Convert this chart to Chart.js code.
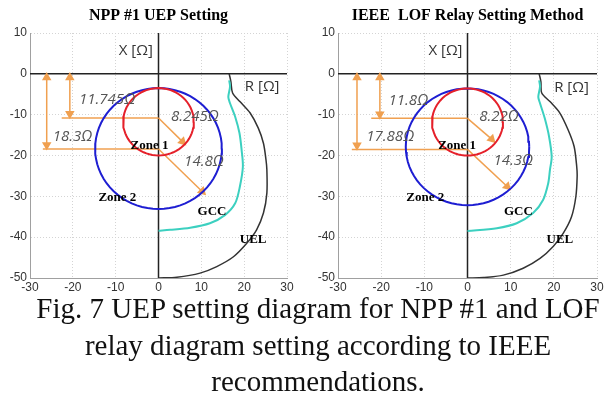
<!DOCTYPE html>
<html>
<head>
<meta charset="utf-8">
<script src="https://cdn.jsdelivr.net/npm/chart.js@4.4.1/dist/chart.umd.min.js"></script>
<style>
  body { margin: 0; background: #fff; }
  #wrap { position: relative; width: 610px; height: 405px; overflow: hidden; }
  canvas { position: absolute; top: 0; }
  #c1 { left: 0; }
  #c2 { left: 305px; }
  #caption {
    position: absolute; left: 13px; top: 290px; width: 610px; text-align: center;
    font-family: "Liberation Serif", "Times New Roman", serif;
    font-size: 29px; line-height: 36.5px; color: #111;
  }
</style>
</head>
<body>
<div id="wrap">
  <canvas id="c1" width="305" height="295"></canvas>
  <canvas id="c2" width="305" height="295"></canvas>
  <div id="caption">Fig. 7 UEP setting diagram for NPP #1 and LOF<br>relay diagram setting according to IEEE<br>recommendations.</div>
</div>
<script>
// axis ticks
const xTicks = [-30, -20, -10, 0, 10, 20, 30];
const yTicks = [10, 0, -10, -20, -30, -40, -50];

// NPP #1 UEP setting (left)
const nppZoneCenter = [-11.745, -18.3];   // zone 1, zone 2 (X offset of centre)
const nppZoneRadius = [8.245, 14.8];
const nppGccR = [16.5, 16.7, 16.3, 16.7, 17.9, 18.9, 19.4, 19.7, 19.0, 17.9, 15.5, 12.0, 7.4, 2.7, 0];
const nppGccX = [-1.6, -3.1, -5.7, -7.2, -10.5, -14.5, -18.6, -22.7, -27.6, -31.7, -34.6, -36.6, -37.7, -38.2, -38.4];
const nppUelR = [16.5, 16.9, 17.3, 19.0, 21.4, 23.3, 24.5, 25.1, 25.3, 25.3, 24.5, 22.9, 20.6, 17.5, 13.6, 9.7, 4.3, 0];
const nppUelX = [0, -1.9, -4.7, -6.8, -9.6, -13.3, -17.0, -21.1, -23.5, -29.2, -34.1, -38.2, -41.5, -44.8, -47.2, -48.8, -49.8, -50];
const nppDimX = [-20.7, -26.1];           // vertical dimension arrows
const nppDimY = [-10.8, -18.4];           // centre lines as drawn
const nppDimStart = [-22.6, -27.0];
const nppRadTipR = [5.6, 10.2];           // radius arrow tips
const nppRadTipX = [-16.6, -28.8];

// IEEE LOF relay setting (right)
const ieeeZoneCenter = [-11.8, -17.88];
const ieeeZoneRadius = [8.22, 14.3];
const ieeeGccR = [16.6, 16.8, 16.4, 16.8, 17.9, 18.9, 19.5, 19.1, 18.7, 17.5, 15.2, 11.4, 6.8, 0];
const ieeeGccX = [-1.6, -3.1, -5.7, -7.2, -10.9, -15.4, -20.3, -23.5, -26.8, -30.9, -34.1, -36.6, -37.8, -38.5];
const ieeeUelR = [16.6, 17.0, 17.2, 19.1, 21.4, 23.3, 24.7, 25.3, 25.4, 25.1, 24.1, 22.2, 19.9, 16.8, 12.9, 8.3, 3.7, 0];
const ieeeUelX = [0, -1.9, -4.7, -6.8, -9.6, -13.7, -17.8, -22.7, -25.2, -30.1, -35.0, -39.0, -42.2, -45.2, -47.6, -49.3, -49.9, -50];
const ieeeDimX = [-20.3, -25.6];
const ieeeDimY = [-10.9, -18.5];
const ieeeDimStart = [-22.3, -26.8];
const ieeeRadTipR = [5.6, 9.2];
const ieeeRadTipX = [-16.0, -27.6];

const ORANGE = '#f0a050';

function circle(c, r) {
  const pts = [];
  for (let a = 0; a <= 360; a += 5) {
    const t = a * Math.PI / 180;
    pts.push({ x: r * Math.cos(t), y: c + r * Math.sin(t) });
  }
  return pts;
}

function zip(xs, ys) {
  return xs.map((v, i) => ({ x: v, y: ys[i] }));
}

function lineSet(data, color, width, tension) {
  return { data, borderColor: color, borderWidth: width, showLine: true,
           pointRadius: 0, tension: tension || 0, fill: false };
}

function arrowSet(data, radii, rotations) {
  return { data, borderColor: ORANGE, backgroundColor: ORANGE, borderWidth: 1.5,
           showLine: true, pointRadius: radii, pointHoverRadius: radii,
           pointStyle: 'triangle', pointRotation: rotations,
           pointBackgroundColor: ORANGE, pointBorderColor: ORANGE, tension: 0 };
}

// draw X / R axes through zero
const zeroAxes = {
  id: 'zeroAxes',
  beforeDatasetsDraw(chart) {
    const { ctx, chartArea: a, scales: { x, y } } = chart;
    const px = x.getPixelForValue(0), py = y.getPixelForValue(0);
    ctx.save();
    ctx.strokeStyle = '#222';
    ctx.lineWidth = 1.5;
    ctx.beginPath();
    ctx.moveTo(a.left, py); ctx.lineTo(a.right, py);
    ctx.moveTo(px, a.top); ctx.lineTo(px, a.bottom);
    ctx.stroke();
    ctx.restore();
  }
};

// text labels placed in data coordinates, plus a title centred over the plot
const labelsPlugin = {
  id: 'labels',
  afterDatasetsDraw(chart, args, opts) {
    const { ctx, chartArea: a, scales: { x, y } } = chart;
    ctx.save();
    ctx.textAlign = 'center';
    ctx.textBaseline = 'middle';
    opts.items.forEach(it => {
      ctx.font = it.font;
      ctx.fillStyle = it.color;
      ctx.fillText(it.text, x.getPixelForValue(it.x), y.getPixelForValue(it.y));
    });
    ctx.font = 'bold 16px "Liberation Serif", "Times New Roman", serif';
    ctx.fillStyle = '#000';
    ctx.fillText(opts.title, (a.left + a.right) / 2, 16);
    ctx.restore();
  }
};

const axisFont = '15px "Open Sans", "Liberation Sans", sans-serif';
const dimFont = 'italic 15px "Open Sans", "Liberation Sans", sans-serif';
const zoneFont = 'bold 13px "Liberation Serif", "Times New Roman", serif';

function makeChart(id, title, d, yWidth, padRight, labels) {
  const datasets = [
    lineSet(circle(d.center[0], d.radius[0]), '#e5202a', 2),
    lineSet(circle(d.center[1], d.radius[1]), '#1e1ed2', 2),
    lineSet(zip(d.gccR, d.gccX), '#3cd0c0', 2, 0.3),
    lineSet(zip(d.uelR, d.uelX), '#333', 1.5, 0.3),
    // horizontal centre lines
    lineSet([{ x: d.dimStart[0], y: d.dimY[0] }, { x: 0, y: d.dimY[0] }], ORANGE, 1.5),
    lineSet([{ x: d.dimStart[1], y: d.dimY[1] }, { x: 0, y: d.dimY[1] }], ORANGE, 1.5),
    // vertical offset arrows
    arrowSet([{ x: d.dimX[0], y: -0.9 }, { x: d.dimX[0], y: d.dimY[0] + 1 }], 4, [0, 180]),
    arrowSet([{ x: d.dimX[1], y: -0.9 }, { x: d.dimX[1], y: d.dimY[1] + 1 }], 4, [0, 180]),
    // radius arrows
    arrowSet([{ x: 0, y: d.dimY[0] }, { x: d.tipR[0], y: d.tipX[0] }], [0, 4], 135),
    arrowSet([{ x: 0, y: d.dimY[1] }, { x: d.tipR[1], y: d.tipX[1] }], [0, 4], 135)
  ];

  const tickFont = { family: '"Liberation Sans", Arial, sans-serif', size: 12 };

  return new Chart(document.getElementById(id), {
    type: 'scatter',
    data: { datasets },
    plugins: [zeroAxes, labelsPlugin],
    options: {
      responsive: false,
      animation: false,
      layout: { padding: { left: 0, right: padRight, top: 33, bottom: 0 } },
      plugins: {
        legend: { display: false },
        tooltip: { enabled: false },
        title: { display: false },
        labels: { items: labels, title: title }
      },
      scales: {
        x: {
          type: 'linear', min: -30, max: 30,
          afterBuildTicks: s => { s.ticks = xTicks.map(v => ({ value: v })); },
          afterFit: s => { s.height = 17; },
          ticks: { color: '#333', font: tickFont, padding: 2, maxRotation: 0 },
          grid: { color: '#d4d4d4', drawTicks: false },
          border: { color: '#a0a0a0', dash: [1, 2] }
        },
        y: {
          type: 'linear', min: -50, max: 10,
          afterBuildTicks: s => { s.ticks = yTicks.map(v => ({ value: v })); },
          afterFit: s => { s.width = yWidth; },
          ticks: { color: '#333', font: tickFont, padding: 3 },
          grid: { color: '#d4d4d4', drawTicks: false },
          border: { color: '#a0a0a0', dash: [1, 2] }
        }
      }
    }
  });
}

makeChart('c1', 'NPP #1 UEP Setting', {
  center: nppZoneCenter, radius: nppZoneRadius,
  gccR: nppGccR, gccX: nppGccX, uelR: nppUelR, uelX: nppUelX,
  dimX: nppDimX, dimY: nppDimY, dimStart: nppDimStart, tipR: nppRadTipR, tipX: nppRadTipX
}, 30, 18, [
  { text: 'X [\u03A9]', x: -5.3, y: 5.6, font: axisFont, color: '#333' },
  { text: 'R [\u03A9]', x: 24.2, y: -3.2, font: axisFont, color: '#333' },
  { text: '11.745\u03A9', x: -12.0, y: -6.4, font: dimFont, color: '#555' },
  { text: '18.3\u03A9', x: -20.1, y: -15.4, font: dimFont, color: '#555' },
  { text: '8.245\u03A9', x: 8.5, y: -10.5, font: dimFont, color: '#555' },
  { text: '14.8\u03A9', x: 10.6, y: -21.5, font: dimFont, color: '#555' },
  { text: 'Zone 1', x: -2.1, y: -17.6, font: zoneFont, color: '#000' },
  { text: 'Zone 2', x: -9.6, y: -30.2, font: zoneFont, color: '#000' },
  { text: 'GCC', x: 12.5, y: -33.7, font: zoneFont, color: '#000' },
  { text: 'UEL', x: 22.1, y: -40.5, font: zoneFont, color: '#000' }
]);

makeChart('c2', 'IEEE  LOF Relay Setting Method', {
  center: ieeeZoneCenter, radius: ieeeZoneRadius,
  gccR: ieeeGccR, gccX: ieeeGccX, uelR: ieeeUelR, uelX: ieeeUelX,
  dimX: ieeeDimX, dimY: ieeeDimY, dimStart: ieeeDimStart, tipR: ieeeRadTipR, tipX: ieeeRadTipX
}, 33, 13, [
  { text: 'X [\u03A9]', x: -5.1, y: 5.7, font: axisFont, color: '#333' },
  { text: 'R [\u03A9]', x: 24.1, y: -3.3, font: axisFont, color: '#333' },
  { text: '11.8\u03A9', x: -13.7, y: -6.5, font: dimFont, color: '#555' },
  { text: '17.88\u03A9', x: -17.9, y: -15.5, font: dimFont, color: '#555' },
  { text: '8.22\u03A9', x: 7.3, y: -10.5, font: dimFont, color: '#555' },
  { text: '14.3\u03A9', x: 10.6, y: -21.2, font: dimFont, color: '#555' },
  { text: 'Zone 1', x: -2.4, y: -17.6, font: zoneFont, color: '#000' },
  { text: 'Zone 2', x: -9.8, y: -30.2, font: zoneFont, color: '#000' },
  { text: 'GCC', x: 11.8, y: -33.7, font: zoneFont, color: '#000' },
  { text: 'UEL', x: 21.4, y: -40.5, font: zoneFont, color: '#000' }
]);
</script>
</body>
</html>
